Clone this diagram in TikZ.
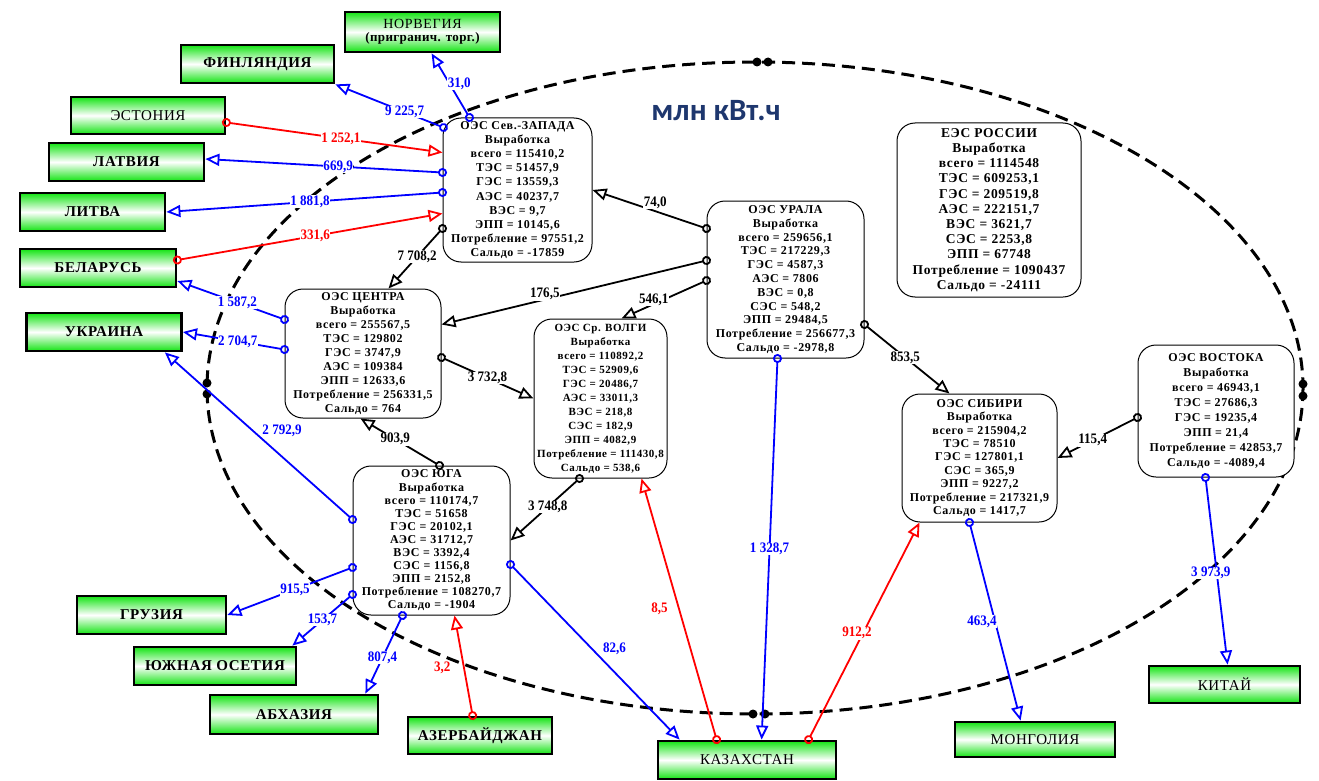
\documentclass[tikz,border=0pt]{standalone}
\usepackage{fontspec}
\setmainfont{Liberation Serif}
\newfontfamily\titlefont{Carlito}
\newfontfamily\lblfont[FakeStretch=0.9]{Liberation Serif}
\usetikzlibrary{arrows.meta,calc}
\definecolor{bgreen}{RGB}{20,228,20}
\definecolor{myblue}{RGB}{0,0,255}
\definecolor{myred}{RGB}{255,0,0}
\definecolor{navy}{RGB}{30,55,110}
\begin{document}
\begin{tikzpicture}[x=1pt,y=-1pt,
  country/.style={draw=black, line width=2.8pt, top color=bgreen, bottom color=bgreen, middle color=white, inner sep=0pt, align=center},
  cfb/.style={font={\fontsize{15}{16}\selectfont\bfseries\addfontfeatures{LetterSpace=4.5}}},
  cfr/.style={font={\fontsize{15}{16}\selectfont\addfontfeatures{LetterSpace=4}}},
  oes/.style={draw=black, line width=1pt, rounded corners=18pt, fill=white, align=center, inner sep=1pt},
  of/.style 2 args={font={\fontsize{#1}{#2}\selectfont\bfseries\addfontfeatures{LetterSpace=5}}},
  conn/.style={line width=1.8pt, shorten <=-4.5pt, arrows={Circle[open,length=9pt,width=9pt]-Triangle[open,length=14pt,width=12pt]}},
  bl/.style={conn, draw=myblue},
  rd/.style={conn, draw=myred},
  bk/.style={conn, draw=black},
  lbl/.style={fill=white, inner sep=0.5pt, font={\lblfont\bfseries\fontsize{14.5}{15}\selectfont}},
  lb/.style={lbl, text=myblue},
  lr/.style={lbl, text=myred},
  lk/.style={lbl, text=black},
  dot/.style={circle, fill=black, inner sep=0pt, minimum size=9pt},
]
\useasboundingbox (0,0) rectangle (1319,781);

% dashed boundary
\draw[line width=3pt, dash pattern=on 13pt off 7pt] (755,388) ellipse [x radius=548, y radius=326];
\node[dot] (dt1) at (757,62) {};
\node[dot] (dt2) at (768,62) {};
\node[dot] (db1) at (753,714) {};
\node[dot] (db2) at (765,714) {};
\node[dot] (dl1) at (207,383) {};
\node[dot] (dl2) at (207,394) {};
\node[dot] (dr1) at (1303,384) {};
\node[dot] (dr2) at (1303,396) {};

% title
\node[font=\titlefont\bfseries\fontsize{31}{32}\selectfont, text=navy] (title) at (716,111) {млн кВт.ч};

% energy systems
\node[oes, of={12}{14.2}, minimum width=149pt, minimum height=144pt] (sz) at (517.5,190)
 {ОЭС Сев.-ЗАПАДА\\Выработка\\всего = 115410,2\\ТЭС = 51457,9\\ГЭС = 13559,3\\АЭС = 40237,7\\ВЭС = 9,7\\ЭПП = 10145,6\\Потребление = 97551,2\\Сальдо = -17859};
\node[oes, of={12}{13.8}, minimum width=157pt, minimum height=157pt] (ur) at (785.5,279.5)
 {ОЭС УРАЛА\\Выработка\\всего = 259656,1\\ТЭС = 217229,3\\ГЭС = 4587,3\\АЭС = 7806\\ВЭС = 0,8\\СЭС = 548,2\\ЭПП = 29484,5\\Потребление = 256677,3\\Сальдо = -2978,8};
\node[oes, of={12}{14}, minimum width=156pt, minimum height=129pt] (ce) at (363,353.5)
 {ОЭС ЦЕНТРА\\Выработка\\всего = 255567,5\\ТЭС = 129802\\ГЭС = 3747,9\\АЭС = 109384\\ЭПП = 12633,6\\Потребление = 256331,5\\Сальдо = 764};
\node[oes, of={11}{14}, minimum width=133pt, minimum height=159pt] (vo) at (600.5,398.5)
 {ОЭС Ср. ВОЛГИ\\Выработка\\всего = 110892,2\\ТЭС = 52909,6\\ГЭС = 20486,7\\АЭС = 33011,3\\ВЭС = 218,8\\СЭС = 182,9\\ЭПП = 4082,9\\Потребление = 111430,8\\Сальдо = 538,6};
\node[oes, of={12}{13.1}, minimum width=157pt, minimum height=149pt] (yu) at (431.5,540.5)
 {ОЭС ЮГА\\Выработка\\всего = 110174,7\\ТЭС = 51658\\ГЭС = 20102,1\\АЭС = 31712,7\\ВЭС = 3392,4\\СЭС = 1156,8\\ЭПП = 2152,8\\Потребление = 108270,7\\Сальдо = -1904};
\node[oes, of={13.5}{15.2}, minimum width=184pt, minimum height=174pt] (ru) at (989,210)
 {ЕЭС РОССИИ\\Выработка\\всего = 1114548\\ТЭС = 609253,1\\ГЭС = 209519,8\\АЭС = 222151,7\\ВЭС = 3621,7\\СЭС = 2253,8\\ЭПП = 67748\\Потребление = 1090437\\Сальдо = -24111};
\node[oes, of={12}{13.4}, minimum width=155pt, minimum height=128pt] (si) at (979.5,458)
 {ОЭС СИБИРИ\\Выработка\\всего = 215904,2\\ТЭС = 78510\\ГЭС = 127801,1\\СЭС = 365,9\\ЭПП = 9227,2\\Потребление = 217321,9\\Сальдо = 1417,7};
\node[oes, of={12}{15}, minimum width=156pt, minimum height=132pt] (vs) at (1216,411)
 {ОЭС ВОСТОКА\\Выработка\\всего = 46943,1\\ТЭС = 27686,3\\ГЭС = 19235,4\\ЭПП = 21,4\\Потребление = 42853,7\\Сальдо = -4089,4};

% neighbouring countries
\node[country, minimum width=155pt, minimum height=40pt] (no) at (422.5,32)
 {{\fontsize{14}{16}\selectfont\addfontfeatures{LetterSpace=5}НОРВЕГИЯ}\\[1.5pt]{\fontsize{13}{14}\selectfont\bfseries\addfontfeatures{LetterSpace=3}(пригранич. торг.)}};
\node[country, cfb, minimum width=153pt, minimum height=38pt] (fi) at (257.5,64) {ФИНЛЯНДИЯ};
\node[country, cfr, minimum width=154pt, minimum height=37pt] (es) at (148,115.5) {ЭСТОНИЯ};
\node[country, cfb, minimum width=155pt, minimum height=38pt] (la) at (126.5,162) {ЛАТВИЯ};
\node[country, cfb, minimum width=145pt, minimum height=38pt] (li) at (92.5,212) {ЛИТВА};
\node[country, cfb, minimum width=156pt, minimum height=38pt] (be) at (98,268) {БЕЛАРУСЬ};
\node[country, cfb, minimum width=155pt, minimum height=38pt] (uk) at (104,332) {УКРАИНА};
\node[country, cfb, minimum width=149pt, minimum height=38pt] (gr) at (151.5,615) {ГРУЗИЯ};
\node[country, cfb, minimum width=162pt, minimum height=38pt] (so) at (215,666) {ЮЖНАЯ ОСЕТИЯ};
\node[country, cfb, minimum width=168pt, minimum height=39pt] (ab) at (294,714.5) {АБХАЗИЯ};
\node[country, cfb, minimum width=144pt, minimum height=37pt] (az) at (480,735.5) {АЗЕРБАЙДЖАН};
\node[country, cfr, minimum width=178pt, minimum height=38pt] (ka) at (747,760) {КАЗАХСТАН};
\node[country, cfr, minimum width=160pt, minimum height=35pt] (mo) at (1035,739.5) {МОНГОЛИЯ};
\node[country, cfr, minimum width=151pt, minimum height=37pt] (ki) at (1224.5,684.5) {КИТАЙ};

% flows of Sev.-Zapad
\draw[bl] ($(sz.north west)+(27,0)$) -- node[lb, pos=0.53, anchor=west, xshift=-3pt]{31,0} ($(no.south west)+(88,0)$);
\draw[bl] ($(sz.north west)+(1,10)$) -- node[lb, pos=0.36]{9 225,7} (fi.south east);
\draw[bl] ($(sz.north west)+(0,55)$) -- node[lb, pos=0.44]{669,9} ($(la.east)+(0,-3)$);
\draw[bl] ($(sz.north west)+(0,75)$) -- node[lb, pos=0.48]{1 881,8} (li.east);
\draw[rd] ($(es.east)+(0,7)$) -- node[lr, pos=0.53]{1 252,1} ($(sz.north west)+(0,35)$);
\draw[rd] ($(be.east)+(0,-8)$) -- node[lr, pos=0.52]{331,6} ($(sz.north west)+(0,96)$);
\draw[bk] ($(sz.north west)+(0,111)$) -- node[lk, pos=0.47]{7 708,2} ($(ce.north west)+(104,0)$);

% flows of Urals
\draw[bk] ($(ur.north west)+(0,28)$) -- node[lk, pos=0.45, above=1pt]{74,0} (sz.east);
\draw[bk] ($(ur.north west)+(0,60)$) -- node[lk, pos=0.61, anchor=south, yshift=-2pt]{176,5} ($(ce.north east)+(0,36)$);
\draw[bk] ($(ur.north west)+(0,80)$) -- node[lk, pos=0.62, anchor=south, yshift=-3pt]{546,1} ($(vo.north west)+(88,0)$);
\draw[bk] ($(ur.north east)+(0,124)$) -- node[lk, pos=0.48]{853,5} ($(si.north west)+(48,0)$);
\draw[bl] ($(ur.south west)+(71,0)$) -- node[lb, pos=0.5]{1 328,7} ($(ka.north west)+(105,0)$);

% flows of Centre, Volga, South
\draw[bk] ($(ce.north east)+(0,69)$) -- node[lk, pos=0.5]{3 732,8} (vo.west);
\draw[bk] ($(yu.north west)+(87,0)$) -- node[lk, pos=0.56]{903,9} ($(ce.south west)+(76,0)$);
\draw[bk] ($(vo.south west)+(46,0)$) -- node[lk, pos=0.46]{3 748,8} (yu.east);
\draw[bl] ($(ce.north west)+(0,31)$) -- node[lb, pos=0.44]{1 587,2} ($(be.east)+(0,13)$);
\draw[bl] ($(ce.north west)+(0,61)$) -- node[lb, pos=0.46]{2 704,7} (uk.east);
\draw[bl] ($(yu.north west)+(0,54)$) -- node[lb, pos=0.53, anchor=west, xshift=8pt]{2 792,9} ($(uk.south east)+(-18,0)$);
\draw[bl] ($(yu.north west)+(0,102)$) -- node[lb, pos=0.46]{915,5} (gr.east);
\draw[bl] ($(yu.north west)+(0,129)$) -- node[lb, pos=0.5]{153,7} ($(so.north east)+(-5,0)$);
\draw[bl] ($(yu.south west)+(50,0)$) -- node[lb, pos=0.54]{807,4} ($(ab.north east)+(-14,0)$);
\draw[bl] ($(yu.north east)+(0,99)$) -- node[lb, pos=0.48, anchor=west, xshift=10pt]{82,6} ($(ka.north west)+(23,0)$);
\draw[rd] ($(az.north west)+(66,0)$) -- node[lr, pos=0.48, anchor=east, xshift=-12pt]{3,2} ($(yu.south west)+(102,0)$);
\draw[rd] ($(ka.north west)+(60,0)$) -- node[lr, pos=0.5, anchor=east, xshift=-10pt]{8,5} ($(vo.south west)+(108,0)$);

% flows of Siberia and East
\draw[rd] ($(ka.north west)+(152,0)$) -- node[lr, pos=0.49, xshift=-6pt]{912,2} ($(si.south west)+(18,0)$);
\draw[bl] ($(si.south west)+(68,0)$) -- node[lb, pos=0.5, anchor=east, xshift=3pt]{463,4} ($(mo.north west)+(67,0)$);
\draw[bk] ($(vs.north west)+(0,73)$) -- node[lk, pos=0.56]{115,4} (si.east);
\draw[bl] ($(vs.south west)+(68,0)$) -- node[lb, pos=0.51, xshift=-6pt]{3 973,9} ($(ki.north west)+(80,0)$);
\end{tikzpicture}
\end{document}
